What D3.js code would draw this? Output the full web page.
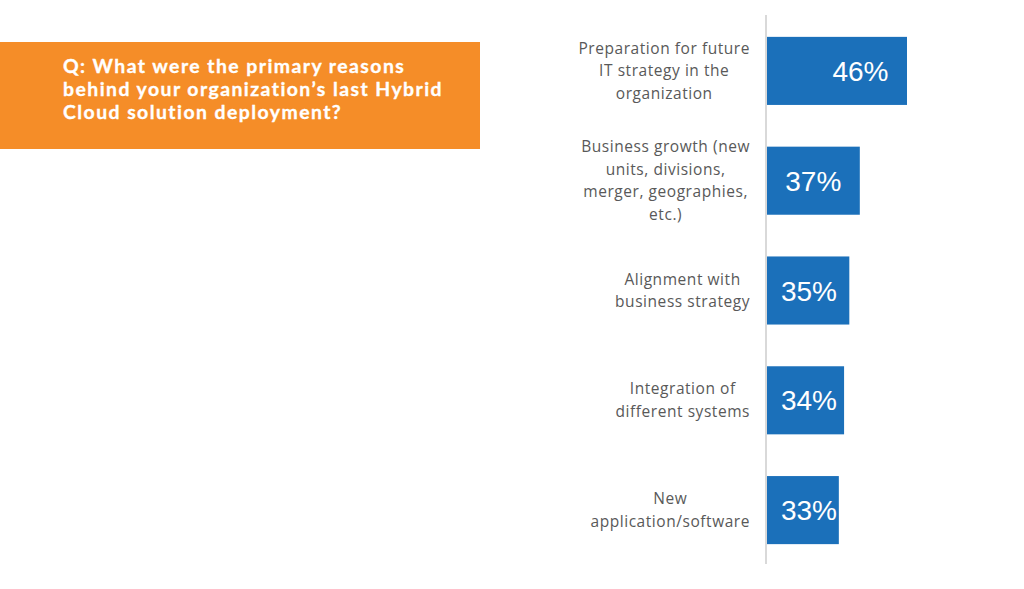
<!DOCTYPE html>
<html>
<head>
<meta charset="utf-8">
<script src="https://cdn.jsdelivr.net/npm/d3@7"></script>
<style>
  body { margin: 0; background: #fff; }
  svg { display: block; }
</style>
</head>
<body>
<svg id="chart" width="1024" height="589"></svg>
<script>
// chart data
var titleLines = [
  "Q: What were the primary reasons",
  "behind your organization\u2019s last Hybrid",
  "Cloud solution deployment?"
];
var categories = [
  ["Preparation for future", "IT strategy in the", "organization"],
  ["Business growth (new", "units, divisions,", "merger, geographies,", "etc.)"],
  ["Alignment with", "business strategy"],
  ["Integration of", "different systems"],
  ["New", "application/software"]
];
var values = [46, 37, 35, 34, 33];

var svg = d3.select("#chart");

// orange question box
svg.append("rect")
  .attr("x", 0).attr("y", 42)
  .attr("width", 480).attr("height", 107)
  .attr("fill", "#f58d28");

// title lines
svg.append("g").selectAll("text")
  .data(titleLines)
  .enter()
  .append("text")
  .attr("x", 63)
  .attr("y", function(d, i) { return 72.5 + i * 23.3; })
  .attr("fill", "#ffffff")
  .attr("stroke", "#ffffff")
  .attr("stroke-width", 0.35)
  .style("font-family", "Lato, sans-serif")
  .style("font-weight", "bold")
  .style("font-size", "19.4px")
  .style("letter-spacing", "1.45px")
  .text(function(d) { return d; });

// scales
var x = d3.scaleLinear().domain([19.3, 46]).range([767, 907]);
var y = d3.scaleBand()
  .domain(d3.range(values.length))
  .range([16, 565])
  .paddingInner(0.38)
  .paddingOuter(0.19);

// bars
svg.append("g").selectAll("rect")
  .data(values)
  .enter()
  .append("rect")
  .attr("x", x(19.3))
  .attr("y", function(d, i) { return y(i); })
  .attr("width", function(d) { return x(d) - x(19.3); })
  .attr("height", y.bandwidth())
  .attr("fill", "#1b70ba");

// axis line
svg.append("line")
  .attr("x1", 766).attr("x2", 766)
  .attr("y1", 15).attr("y2", 564)
  .attr("stroke", "#d9d9d9")
  .attr("stroke-width", 2);

// value labels
svg.append("g").selectAll("text")
  .data(values)
  .enter()
  .append("text")
  .attr("x", function(d) { return Math.max(x(d) - 18.5, x(19.3) + 70); })
  .attr("y", function(d, i) { return y(i) + y.bandwidth() / 2; })
  .attr("dy", "0.36em")
  .attr("text-anchor", "end")
  .attr("fill", "#ffffff")
  .style("font-family", "'Liberation Sans', Arial, sans-serif")
  .style("font-size", "28px")
  .text(function(d) { return d + "%"; });

// category labels: lines centred in a block that is right aligned
var lineH = 22.5;
var labelRight = 750;
categories.forEach(function(lines, i) {
  var g = svg.append("g");
  var cy = y(i) + y.bandwidth() / 2;
  var t = g.selectAll("text")
    .data(lines)
    .enter()
    .append("text")
    .attr("y", function(d, j) { return cy + (j - (lines.length - 1) / 2) * lineH; })
    .attr("dy", "0.35em")
    .attr("text-anchor", "middle")
    .attr("fill", "#595959")
    .style("font-family", "'Open Sans', sans-serif")
    .style("font-size", "15.5px")
    .style("letter-spacing", "0.55px")
    .text(function(d) { return d; });
  var maxW = 0;
  t.each(function() { maxW = Math.max(maxW, this.getComputedTextLength()); });
  t.attr("x", labelRight - maxW / 2);
});
</script>
</body>
</html>
